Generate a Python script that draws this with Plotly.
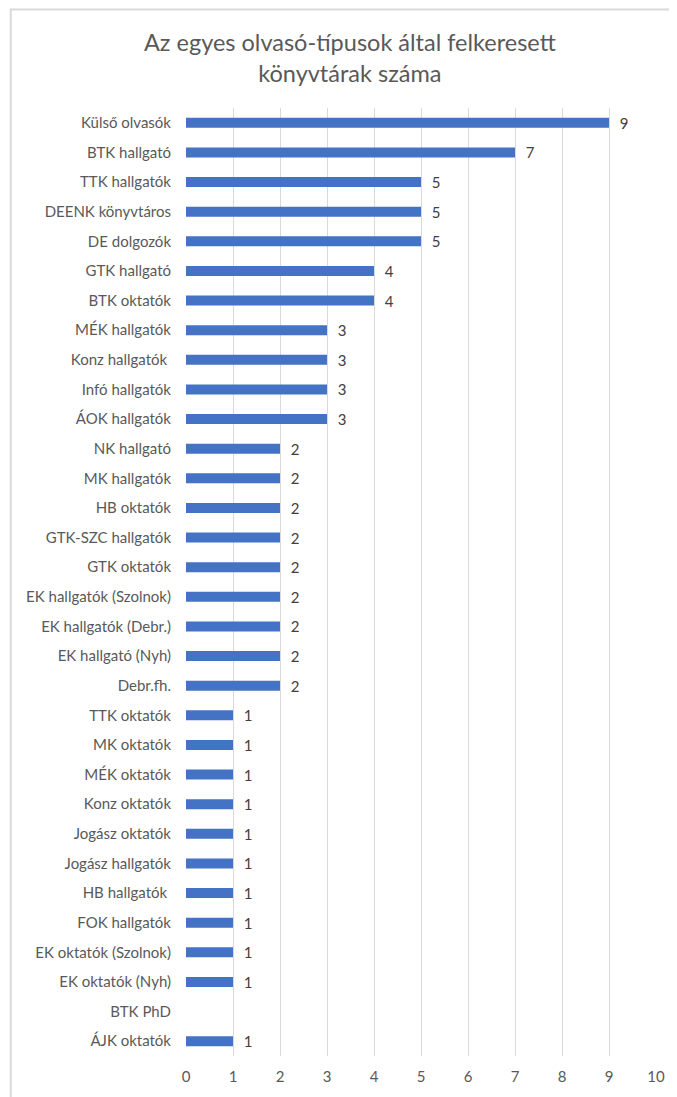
import plotly.graph_objects as go

# olvasó-típusok és a felkeresett könyvtárak száma
categories = [
    'Külső olvasók', 'BTK hallgató', 'TTK hallgatók', 'DEENK könyvtáros',
    'DE dolgozók', 'GTK hallgató', 'BTK oktatók', 'MÉK hallgatók',
    'Konz hallgatók ', 'Infó hallgatók', 'ÁOK hallgatók', 'NK hallgató',
    'MK hallgatók', 'HB oktatók', 'GTK-SZC hallgatók', 'GTK oktatók',
    'EK hallgatók (Szolnok)', 'EK hallgatók (Debr.)', 'EK hallgató (Nyh)',
    'Debr.fh.', 'TTK oktatók', 'MK oktatók', 'MÉK oktatók', 'Konz oktatók',
    'Jogász oktatók', 'Jogász hallgatók', 'HB hallgatók ', 'FOK hallgatók',
    'EK oktatók (Szolnok)', 'EK oktatók (Nyh)', 'BTK PhD', 'ÁJK oktatók',
]
values = [9, 7, 5, 5, 5, 4, 4, 3, 3, 3, 3, 2, 2, 2, 2, 2, 2, 2, 2, 2,
          1, 1, 1, 1, 1, 1, 1, 1, 1, 1, None, 1]
x_ticks = [0, 1, 2, 3, 4, 5, 6, 7, 8, 9, 10]

title_text = 'Az egyes olvasó-típusok által felkeresett<br>könyvtárak száma'

font_name = 'Lato, Open Sans, sans-serif'

fig = go.Figure()
fig.add_trace(go.Bar(
    x=values, y=categories, orientation='h',
    marker=dict(color='#4472C4', line=dict(width=0)),
    width=0.34,
    text=[('' if v is None else str(v)) for v in values],
    textposition='outside',
    texttemplate='  %{text}',
    constraintext='none',
    textfont=dict(family=font_name, size=15, color='#404040'),
    cliponaxis=False,
))

# keret a diagram körül
fig.add_shape(type='rect', xref='paper', yref='paper',
              x0=-0.3729, x1=1.2, y0=-0.1, y1=1.104,
              line=dict(color='#d9d9d9', width=2), layer='below')

fig.update_layout(
    width=669, height=1089,
    margin=dict(l=178, r=19, t=100, b=29),
    paper_bgcolor='white', plot_bgcolor='white',
    showlegend=False,
    title=dict(text=title_text, x=0.511, xanchor='center', xref='container',
               yref='container', y=1 - 43 / 1089, yanchor='top',
               font=dict(family=font_name, size=23.5, color='#595959')),
    font=dict(family=font_name, size=15, color='#595959'),
    xaxis=dict(range=[0, 10], tickvals=x_ticks, showgrid=True,
               gridcolor='#d9d9d9', gridwidth=1, zeroline=False,
               showline=False, ticks='', ticklabelstandoff=10,
               tickfont=dict(size=15, color='#595959')),
    yaxis=dict(autorange='reversed', showgrid=False, zeroline=False,
               showline=False, ticks='', ticklabelstandoff=14,
               tickfont=dict(size=15, color='#595959')),
)

fig.write_html('out.html')
